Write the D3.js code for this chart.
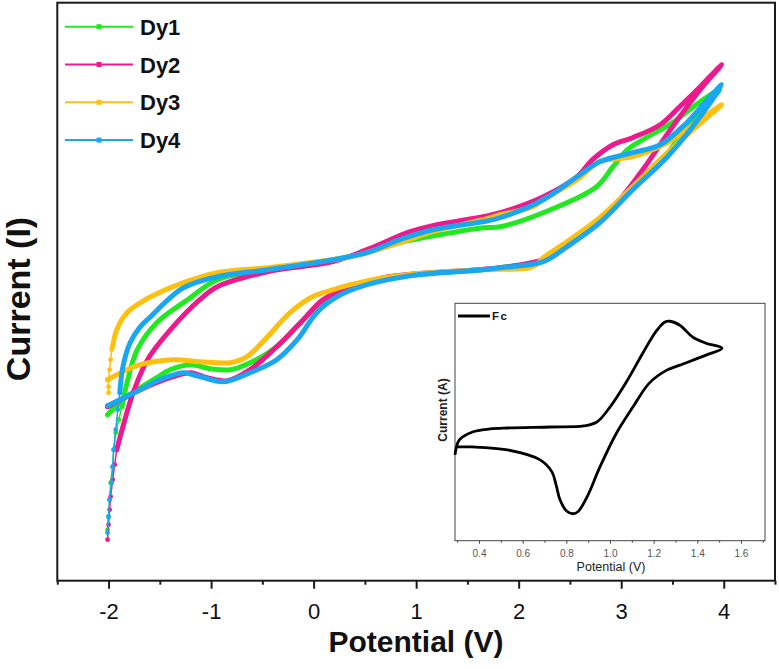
<!DOCTYPE html>
<html><head><meta charset="utf-8">
<script src="https://cdn.jsdelivr.net/npm/d3@7/dist/d3.min.js"></script>
<style>body{margin:0;background:#fff}svg{display:block}</style>
</head><body>
<svg id="chart" width="779" height="669"></svg>
<script>
// ---------- data (potential V, current arbitrary units) ----------
const seriesNames  = ["Dy1", "Dy2", "Dy3", "Dy4"];
const seriesColors = ["#22e822", "#ec1a8d", "#fdc00f", "#19a7f2"];
const xTicks       = [-2, -1, 0, 1, 2, 3, 4];
const xMinorTicks  = [-2.5, -1.5, -0.5, 0.5, 1.5, 2.5, 3.5, 4.5];

const dy1Tail = [[-2.01,0.51],[-2.00,0.64],[-1.99,0.81],[-1.98,0.98],[-1.96,1.14],[-1.95,1.31],[-1.93,1.48],[-1.90,1.61],[-1.87,1.74]];
const dy1Loop = [[-1.87,1.74],[-1.82,1.98],[-1.72,2.31],[-1.53,2.58],[-1.23,2.81],[-0.94,3.01],[-0.45,3.11],[0.19,3.21],[0.52,3.28],[0.84,3.38],[1.23,3.46],[1.65,3.53],[1.82,3.54],[2.31,3.71],[2.76,3.94],[2.92,4.14],[3.06,4.31],[3.21,4.41],[3.50,4.58],[3.77,4.79],[3.96,4.91],
  [3.67,4.58],[3.38,4.18],[3.11,3.91],[2.79,3.58],[2.47,3.34],[2.24,3.20],[1.82,3.13],[1.65,3.11],[1.01,3.06],[0.68,3.02],[0.29,2.89],[0.09,2.79],[-0.13,2.58],[-0.36,2.34],[-0.62,2.18],[-0.81,2.11],[-1.01,2.12],[-1.20,2.16],[-1.40,2.11],[-1.53,2.03],[-1.69,1.93],[-1.86,1.81],[-2.01,1.66]];

const dy2Tail = [[-2.01,0.41],[-2.00,0.56],[-1.99,0.71],[-1.98,0.84],[-1.96,1.01],[-1.94,1.16],[-1.92,1.31]];
const dy2Loop = [[-1.92,1.31],[-1.86,1.54],[-1.76,1.88],[-1.62,2.21],[-1.37,2.54],[-1.11,2.81],[-0.94,2.94],[-0.45,3.09],[0.19,3.19],[0.52,3.31],[0.94,3.49],[1.16,3.55],[1.65,3.64],[1.82,3.68],[2.24,3.84],[2.57,4.04],[2.72,4.21],[2.92,4.36],[3.11,4.43],[3.38,4.56],[3.57,4.74],[3.77,4.94],[3.98,5.16],
  [3.77,4.91],[3.50,4.54],[3.21,4.11],[2.96,3.78],[2.72,3.54],[2.47,3.34],[2.24,3.21],[1.82,3.13],[1.01,3.07],[0.68,3.03],[0.36,2.93],[0.09,2.81],[-0.10,2.61],[-0.36,2.34],[-0.62,2.11],[-0.84,2.00],[-1.04,2.03],[-1.20,2.08],[-1.37,2.04],[-1.69,1.91],[-2.01,1.74]];

const dy3Tail = [[-2.00,1.88],[-2.00,1.94],[-2.00,2.01],[-1.99,2.11],[-1.98,2.21],[-1.97,2.31],[-1.96,2.34]];
const dy3Loop = [[-1.96,2.34],[-1.92,2.51],[-1.82,2.68],[-1.64,2.81],[-1.59,2.84],[-1.27,2.98],[-0.94,3.08],[-0.45,3.13],[0.03,3.19],[0.36,3.24],[0.84,3.38],[1.16,3.49],[1.65,3.61],[1.82,3.66],[2.14,3.74],[2.24,3.81],[2.57,4.01],[2.79,4.19],[3.11,4.24],[3.45,4.38],[3.57,4.46],[3.77,4.61],[3.98,4.76],
  [3.70,4.51],[3.45,4.28],[3.11,3.94],[2.79,3.63],[2.47,3.39],[2.24,3.23],[2.14,3.14],[1.65,3.11],[1.01,3.07],[0.68,3.03],[0.36,2.96],[0.16,2.90],[-0.03,2.83],[-0.23,2.68],[-0.45,2.44],[-0.65,2.24],[-0.81,2.18],[-1.11,2.19],[-1.37,2.21],[-1.69,2.16],[-1.86,2.09],[-2.01,2.01]];

const dy4Tail = [[-2.01,0.48],[-2.00,0.64],[-1.99,0.81],[-1.97,0.98],[-1.96,1.14],[-1.95,1.31],[-1.93,1.51],[-1.91,1.71],[-1.89,1.88]];
const dy4Loop = [[-1.89,1.88],[-1.86,2.14],[-1.79,2.38],[-1.69,2.54],[-1.59,2.64],[-1.42,2.81],[-1.27,2.93],[-0.94,3.04],[-0.45,3.11],[0.19,3.21],[0.52,3.28],[0.84,3.41],[1.16,3.51],[1.65,3.59],[1.82,3.63],[2.24,3.81],[2.57,4.04],[2.79,4.19],[3.11,4.28],[3.38,4.36],[3.64,4.58],[3.84,4.81],[3.98,4.96],
  [3.77,4.64],[3.45,4.24],[3.11,3.91],[2.79,3.58],[2.47,3.34],[2.24,3.19],[1.82,3.13],[1.65,3.11],[1.01,3.06],[0.52,2.96],[0.23,2.84],[0.03,2.68],[-0.16,2.41],[-0.36,2.21],[-0.62,2.08],[-0.88,1.99],[-1.14,2.05],[-1.27,2.08],[-1.50,2.01],[-1.69,1.91],[-2.01,1.75]];

// inset (ferrocene reference)
const insetXTicks      = [0.4, 0.6, 0.8, 1.0, 1.2, 1.4, 1.6];
const insetXMinorTicks = [0.3, 0.5, 0.7, 0.9, 1.1, 1.3, 1.5, 1.7];
const fcLoop = [[0.29,-0.5],[0.31,1.0],[0.37,1.8],[0.45,2.1],[0.53,2.2],[0.73,2.3],[0.88,2.4],[0.94,2.8],[1.00,4.3],[1.08,7.0],[1.15,9.7],[1.215,12.0],[1.25,12.8],[1.275,12.9],[1.32,12.5],[1.38,11.3],[1.44,10.7],[1.513,10.2],
  [1.44,9.5],[1.32,8.5],[1.26,8.0],[1.18,6.7],[1.105,4.3],[1.03,1.7],[0.954,-1.7],[0.895,-4.7],[0.853,-6.2],[0.83,-6.4],[0.80,-6.1],[0.771,-5.0],[0.753,-3.5],[0.734,-2.2],[0.68,-1.0],[0.53,0.0],[0.37,0.3],[0.30,0.3]];

const loops = [dy1Loop, dy2Loop, dy3Loop, dy4Loop];
const tails = [dy1Tail, dy2Tail, dy3Tail, dy4Tail];

// ---------- drawing ----------
const svg = d3.select("#chart");
const FONT = "Liberation Sans, Arial, Helvetica, sans-serif";
const x = d3.scaleLinear().domain([-2.5, 4.5]).range([57.3, 775]);
const y = d3.scaleLinear().domain([0, 5.78]).range([580.7, 2.7]);

const line = d3.line().x(d => x(d[0])).y(d => y(d[1])).curve(d3.curveCatmullRom.alpha(0.5));
const thin = d3.line().x(d => x(d[0])).y(d => y(d[1]));

const plot = svg.append("g");
loops.forEach((loop, i) => {
  const g = plot.append("g");
  g.append("path").datum(tails[i]).attr("d", thin)
    .attr("fill", "none").attr("stroke", seriesColors[i]).attr("stroke-width", 1.5);
  g.selectAll("circle").data(tails[i].concat([loop[loop.length - 1]])).join("circle")
    .attr("cx", d => x(d[0])).attr("cy", d => y(d[1])).attr("r", 2.4).attr("fill", seriesColors[i]);
  g.append("path").datum(loop).attr("d", line)
    .attr("fill", "none").attr("stroke", seriesColors[i]).attr("stroke-width", 5)
    .attr("stroke-linejoin", "round").attr("stroke-linecap", "round");
});

// frame
svg.append("rect").attr("x", x(-2.5)).attr("y", y(5.78)).attr("width", x(4.5) - x(-2.5)).attr("height", y(0) - y(5.78))
  .attr("fill", "none").attr("stroke", "#1a1a1a").attr("stroke-width", 2);

// x axis
const ax = svg.append("g").attr("transform", `translate(0,${y(0)})`)
  .call(d3.axisBottom(x).tickValues(xTicks).tickSize(8).tickPadding(15).tickFormat(d => String(d)));
ax.select(".domain").remove();
ax.selectAll(".tick line").attr("stroke", "#1a1a1a").attr("stroke-width", 2);
ax.selectAll(".tick text").attr("font-family", FONT).attr("font-size", 22).attr("fill", "#111");
const axm = svg.append("g").attr("transform", `translate(0,${y(0)})`)
  .call(d3.axisBottom(x).tickValues(xMinorTicks).tickSize(4).tickFormat(""));
axm.select(".domain").remove();
axm.selectAll(".tick line").attr("stroke", "#1a1a1a").attr("stroke-width", 2);

// axis titles
svg.append("text").attr("x", 416).attr("y", 652).attr("text-anchor", "middle")
  .attr("font-family", FONT).attr("font-weight", "bold").attr("font-size", 30).attr("fill", "#111")
  .text("Potential (V)");
svg.append("text").attr("transform", "translate(30,299) rotate(-90)").attr("text-anchor", "middle")
  .attr("font-family", FONT).attr("font-weight", "bold").attr("font-size", 34).attr("fill", "#111")
  .text("Current (I)");

// legend
const lg = svg.append("g");
seriesNames.forEach((name, i) => {
  const ly = 26.7 + i * 37.8;
  lg.append("line").attr("x1", 65).attr("x2", 133).attr("y1", ly).attr("y2", ly)
    .attr("stroke", seriesColors[i]).attr("stroke-width", 2);
  lg.append("rect").attr("x", 96.5).attr("y", ly - 2.5).attr("width", 5).attr("height", 5).attr("fill", seriesColors[i]);
  lg.append("text").attr("x", 140).attr("y", ly + 8).attr("font-family", FONT).attr("font-weight", "bold")
    .attr("font-size", 22).attr("fill", "#111").text(name);
});

// ---------- inset ----------
const ix = d3.scaleLinear().domain([0.29, 1.71]).range([455, 765]);
const iy = d3.scaleLinear().domain([-9.1, 14.7]).range([540.7, 303.3]);
const inset = svg.append("g");
inset.append("rect").attr("x", ix(0.29)).attr("y", iy(14.7)).attr("width", ix(1.71) - ix(0.29)).attr("height", iy(-9.1) - iy(14.7))
  .attr("fill", "#fff").attr("stroke", "#444").attr("stroke-width", 1);
const iax = inset.append("g").attr("transform", `translate(0,${iy(-9.1)})`)
  .call(d3.axisBottom(ix).tickValues(insetXTicks).tickSize(3).tickPadding(6).tickFormat(d3.format(".1f")));
iax.select(".domain").remove();
iax.selectAll(".tick line").attr("stroke", "#444");
iax.selectAll(".tick text").attr("font-family", FONT).attr("font-size", 10).attr("fill", "#555");
const iaxm = inset.append("g").attr("transform", `translate(0,${iy(-9.1)})`)
  .call(d3.axisBottom(ix).tickValues(insetXMinorTicks).tickSize(2).tickFormat(""));
iaxm.select(".domain").remove();
iaxm.selectAll(".tick line").attr("stroke", "#444");
inset.append("path").datum(fcLoop).attr("d", d3.line().x(d => ix(d[0])).y(d => iy(d[1])).curve(d3.curveCatmullRom.alpha(0.5)))
  .attr("fill", "none").attr("stroke", "#000").attr("stroke-width", 2.8).attr("stroke-linejoin", "round");
inset.append("text").attr("x", 611).attr("y", 571).attr("text-anchor", "middle")
  .attr("font-family", FONT).attr("font-size", 12.5).attr("fill", "#222").text("Potential (V)");
inset.append("text").attr("transform", "translate(447,410) rotate(-90)").attr("text-anchor", "middle")
  .attr("font-family", FONT).attr("font-weight", "bold").attr("font-size", 12).attr("fill", "#222").text("Current (A)");
inset.append("line").attr("x1", 458).attr("x2", 490).attr("y1", 316).attr("y2", 316).attr("stroke", "#000").attr("stroke-width", 3);
inset.append("text").attr("x", 492).attr("y", 320).attr("font-family", FONT).attr("font-weight", "bold")
  .attr("font-size", 11.5).attr("letter-spacing", 1.5).attr("fill", "#111").text("Fc");
</script>
</body></html>
